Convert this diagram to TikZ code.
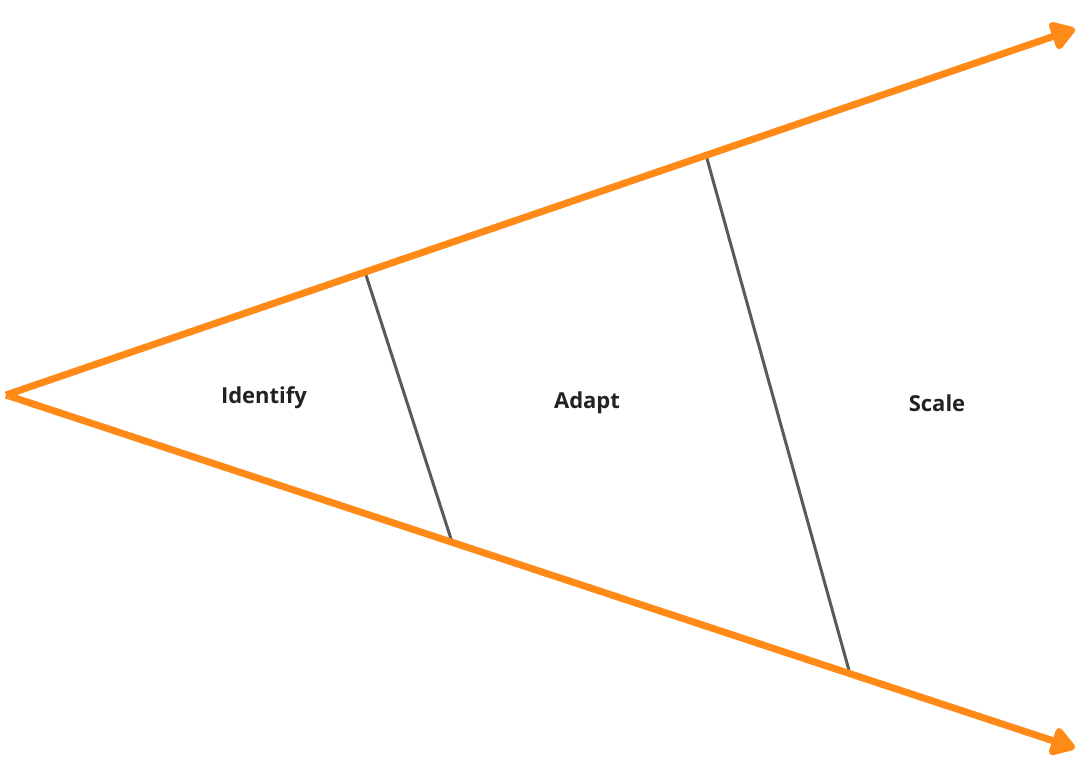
\documentclass[tikz,border=0pt]{standalone}
\usepackage{fontspec}
\setmainfont{Open Sans}
\newfontfamily\phasefamily{Open Sans}
\newcommand\phasefont{\phasefamily\fontsize{22}{25}\selectfont\bfseries}
\usetikzlibrary{arrows.meta}
\definecolor{arrorange}{RGB}{255,138,24}
\definecolor{divgray}{RGB}{90,90,90}
\definecolor{labeltext}{RGB}{34,34,34}
\begin{document}
\begin{tikzpicture}[x=1pt,y=-1pt,
  axis/.style={draw=arrorange,line width=7pt,line join=round,
    -{Triangle[length=27pt,width=32pt,round]}},
  divider/.style={draw=divgray,line width=3pt},
  phase/.style={font=\phasefont,text=labeltext,inner sep=0pt}]
\useasboundingbox (0,0) rectangle (1090,775);
\coordinate (apex) at (6,395);
\coordinate (toptip) at (1075,29);
\coordinate (bottip) at (1075,748);
\coordinate (t1) at (365,272);
\coordinate (b1) at (452,542);
\coordinate (t2) at (706,155);
\coordinate (b2) at (850,674);
\draw[divider] (t1) -- (b1);
\draw[divider] (t2) -- (b2);
\draw[axis] (apex) -- (toptip);
\draw[axis] (apex) -- (bottip);
\node[phase] (identify) at (264,398) {Identify};
\node[phase] (adapt) at (587,403) {Adapt};
\node[phase] (scale) at (937,403) {Scale};
\end{tikzpicture}
\end{document}
